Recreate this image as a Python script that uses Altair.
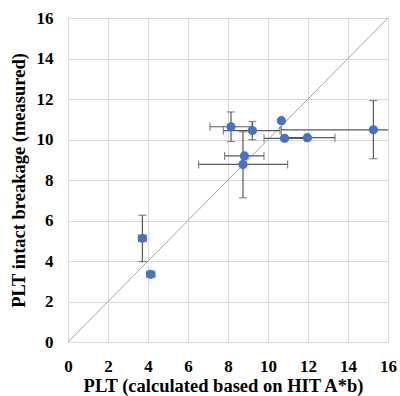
import altair as alt
import pandas as pd

x_vals = [8.15, 9.22, 10.67, 15.27, 10.83, 11.97, 8.82, 8.75, 3.72, 4.13]
y_vals = [10.63, 10.44, 10.93, 10.48, 10.06, 10.09, 9.19, 8.77, 5.12, 3.34]
x_lo = [7.1, 7.77, 10.6, 10.67, 9.8, 10.67, 7.83, 6.53, 3.52, 3.93]
x_hi = [9.2, 10.6, 10.74, 19.9, 11.85, 13.35, 9.8, 10.98, 3.92, 4.35]
y_lo = [9.9, 9.99, 10.9, 9.05, 10.0, 10.05, 9.15, 7.12, 3.97, 3.3]
y_hi = [11.36, 10.89, 10.96, 11.92, 10.1, 10.13, 9.23, 10.38, 6.26, 3.38]

df = pd.DataFrame({"x": x_vals, "y": y_vals, "xlo": x_lo, "xhi": x_hi,
                   "ylo": y_lo, "yhi": y_hi})
diag = pd.DataFrame({"x": [0, 16], "y": [0, 16]})

FONT = "Times New Roman, Liberation Serif, serif"
xs = alt.Scale(domain=[0, 16], nice=False)
ys = alt.Scale(domain=[0, 16], nice=False)
ticks = list(range(0, 17, 2))

common = dict(grid=True, ticks=False, labelFont=FONT, labelFontSize=17,
              labelFontWeight="bold", labelColor="black", titleFont=FONT,
              titleFontSize=18.5, titleFontWeight="bold", titleColor="black",
              domainColor="#d9d9d9", gridColor="#d9d9d9",
              labelOverlap=False, labelFlush=False, labelBound=False)
xaxis = alt.Axis(values=ticks, title="PLT (calculated based on HIT A*b)",
                 labelPadding=16, titlePadding=2, titleX=155, **common)
yaxis = alt.Axis(values=ticks, title="PLT intact breakage (measured)",
                 labelPadding=15, titlePadding=8, **common)

def X(f):
    return alt.X(f, type="quantitative", scale=xs, axis=xaxis)

def Y(f):
    return alt.Y(f, type="quantitative", scale=ys, axis=yaxis)

line = alt.Chart(diag).mark_line(color="#a6a6a6", strokeWidth=1).encode(x=X("x"), y=Y("y"))

ecol = "#595959"
hbar = alt.Chart(df).mark_rule(color=ecol, strokeWidth=1.2, clip=True).encode(
    x=X("xlo"), x2="xhi:Q", y=Y("y"))
vbar = alt.Chart(df).mark_rule(color=ecol, strokeWidth=1.2).encode(
    x=X("x"), y=Y("ylo"), y2="yhi:Q")
cap_xlo = alt.Chart(df).mark_tick(color=ecol, orient="vertical", size=8, thickness=1.2, clip=True).encode(
    x=X("xlo"), y=Y("y"))
cap_xhi = alt.Chart(df).mark_tick(color=ecol, orient="vertical", size=8, thickness=1.2, clip=True).encode(
    x=X("xhi"), y=Y("y"))
cap_ylo = alt.Chart(df).mark_tick(color=ecol, orient="horizontal", size=8, thickness=1.2).encode(
    x=X("x"), y=Y("ylo"))
cap_yhi = alt.Chart(df).mark_tick(color=ecol, orient="horizontal", size=8, thickness=1.2).encode(
    x=X("x"), y=Y("yhi"))
pts = alt.Chart(df).mark_circle(color="#4472C4", opacity=1, size=85).encode(
    x=X("x"), y=Y("y"))

chart = alt.layer(line, hbar, vbar, cap_xlo, cap_xhi, cap_ylo, cap_yhi, pts).properties(
    width=320, height=324,
    autosize=alt.AutoSizeParams(type="none"),
    padding={"left": 68, "top": 18, "right": 12, "bottom": 54},
    background="white",
).configure_view(stroke="#d9d9d9")

chart.save("out.html", embed_options={"renderer": "svg", "actions": False})
